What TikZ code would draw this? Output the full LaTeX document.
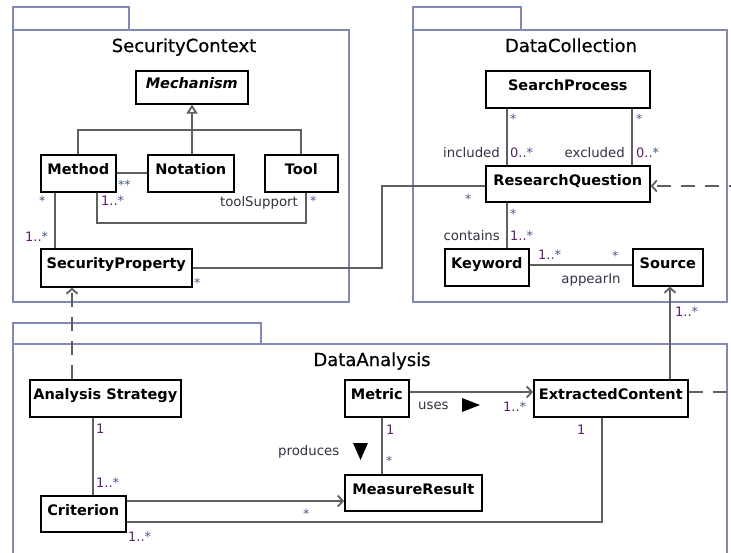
\documentclass[tikz,border=0pt]{standalone}
\usepackage{fontspec}
\setmainfont{DejaVu Sans}
\newfontfamily\pkgfont[FakeBold=0.5]{DejaVu Sans}
\usetikzlibrary{arrows.meta}

\definecolor{pkgline}{RGB}{128,136,184}
\definecolor{conn}{RGB}{95,95,95}
\definecolor{multc}{RGB}{96,32,110}
\definecolor{starc}{RGB}{70,90,135}
\definecolor{rolec}{RGB}{50,50,72}

\begin{document}
\begin{tikzpicture}[x=1pt,y=-1pt,
  pkg/.style={draw=pkgline, line width=1.3pt},
  pkgtitle/.style={font=\pkgfont\fontsize{18}{20}\selectfont, anchor=base, inner sep=0pt},
  cls/.style={draw=black, line width=1.6pt, fill=white, anchor=north west,
    font=\fontsize{14.5}{16}\selectfont\bfseries,
    text height=17pt, text depth=14pt, inner ysep=3pt, inner xsep=2pt},
  assoc/.style={draw=conn, line width=1.8pt},
  navi/.style={assoc, -{Straight Barb[length=5pt,width=11pt]}},
  dep/.style={navi, dash pattern=on 14pt off 10pt},
  gen/.style={assoc, -{Triangle[open, length=9pt, width=11pt]}},
  mult/.style={text=multc, font=\fontsize{13}{15}\selectfont, inner sep=0pt, anchor=base west},
  star/.style={text=starc, font=\fontsize{12.5}{14}\selectfont, inner sep=0pt, anchor=base west},
  role/.style={text=rolec, font=\fontsize{13.3}{15}\selectfont, inner sep=0pt},
  marker/.style={fill=black}
]
\useasboundingbox (0,0) rectangle (731,552);
\fill[white] (0,0) rectangle (731,552);

% ---------- packages ----------
\draw[pkg] (13,7) rectangle (129,30);
\draw[pkg] (13,30) rectangle (349,302);
\node[pkgtitle] (tSC) at (184,52) {SecurityContext};

\draw[pkg] (413,7) rectangle (521,30);
\draw[pkg] (413,30) rectangle (727,302);
\node[pkgtitle] (tDC) at (571,52) {DataCollection};

\draw[pkg] (13,323) rectangle (261,344);
\draw[pkg] (13,344) rectangle (727,570);
\node[pkgtitle] (tDA) at (372,366) {DataAnalysis};

% ---------- classes ----------
\node[cls, minimum width=112pt, text height=15pt, text depth=12pt,
  font=\fontsize{14.5}{16}\selectfont\bfseries\itshape] (mech) at (135,70) {Mechanism};
\node[cls, minimum width=75pt]  (method)   at (40,154)  {Method};
\node[cls, minimum width=86pt]  (notation) at (147,154) {Notation};
\node[cls, minimum width=73pt]  (tool)     at (264,154) {Tool};
\node[cls, minimum width=151pt, text depth=15pt] (sp) at (40,248) {SecurityProperty};

\node[cls, minimum width=164pt] (search)   at (485,70)  {SearchProcess};
\node[cls, minimum width=164pt, text depth=13pt] (rq) at (485,165) {ResearchQuestion};
\node[cls, minimum width=84pt]  (keyword)  at (444,248) {Keyword};
\node[cls, minimum width=70pt]  (source)   at (632,248) {Source};

\node[cls, minimum width=151pt] (as)       at (29,379)  {Analysis Strategy};
\node[cls, minimum width=64pt]  (metric)   at (344,379) {Metric};
\node[cls, minimum width=154pt] (ec)       at (533,379) {ExtractedContent};
\node[cls, minimum width=137pt, text depth=13pt] (mr) at (344,474) {MeasureResult};
\node[cls, minimum width=85pt, text depth=13pt]  (crit) at (40,495) {Criterion};

% ---------- helper points for routed connectors ----------
\coordinate (gj) at (192,130);
\coordinate (mt1) at (97,223);
\coordinate (mt2) at (306,223);
\coordinate (ms) at (55,220);
\coordinate (sr) at (382,230);
\coordinate (s1) at (507,130);
\coordinate (s2) at (632,130);
\coordinate (se) at (670,330);
\coordinate (sa) at (72,330);
\coordinate (dr) at (733,392);
\coordinate (du) at (733,186);
\coordinate (ac) at (93,450);
\coordinate (mm) at (382,440);
\coordinate (cm) at (200,501);
\coordinate (ce) at (602,522);

% ---------- SecurityContext connectors ----------
\draw[assoc] (method.north) |- (gj) -| (tool.north);
\draw[assoc] (notation.north -| gj) -- (gj);
\draw[gen] (gj) -- (mech.south -| gj);
\draw[assoc] (method.east) -- (notation.west);
\draw[assoc] (method.south -| mt1) -- (mt1) -- (mt2) -- (tool.south -| mt2);
\draw[assoc] (method.south -| ms) -- (sp.north -| ms);
\draw[assoc] (sp.east) -| (sr) |- (rq.west |- du);

% ---------- DataCollection connectors ----------
\draw[assoc] (search.south -| s1) -- (rq.north -| s1);
\draw[assoc] (search.south -| s2) -- (rq.north -| s2);
\draw[assoc] (rq.south -| s1) -- (keyword.north -| s1);
\draw[assoc] ([yshift=2pt]keyword.east) -- ([yshift=2pt]source.west);

% ---------- cross-package connectors ----------
\draw[navi] (ec.north -| se) -- (source.south -| se);
\draw[dep] (as.north -| sa) -- (sp.south -| sa);
\draw[dep] (ec.east |- dr) -- (dr) -- (du) -- (rq.east |- du);

% ---------- DataAnalysis connectors ----------
\draw[assoc] (as.south -| ac) -- (crit.north -| ac);
\draw[navi] (metric.east |- dr) -- (ec.west |- dr);
\draw[assoc] (metric.south -| mm) -- (mr.north -| mm);
\draw[navi] (crit.east |- cm) -- (mr.west |- cm);
\draw[assoc] (crit.east |- ce) -- (ce) -- (ec.south -| ce);

% ---------- multiplicities ----------
\node[star] (m1)  at (118,189) {**};
\node[star] (m2)  at (39,205)  {*};
\node[mult] (m3)  at (101,205) {1..\textcolor{starc}{*}};
\node[star] (m4)  at (310,205) {*};
\node[mult] (m5)  at (25,241)  {1..\textcolor{starc}{*}};
\node[star] (m6)  at (194,287) {*};

\node[star] (m7)  at (510,123) {*};
\node[star] (m8)  at (636,123) {*};
\node[mult] (m9)  at (510,157) {0..\textcolor{starc}{*}};
\node[mult] (m10) at (636,157) {0..\textcolor{starc}{*}};
\node[star] (m11) at (465,203) {*};
\node[star] (m12) at (510,218) {*};
\node[mult] (m13) at (510,240) {1..\textcolor{starc}{*}};
\node[mult] (m14) at (538,259) {1..\textcolor{starc}{*}};
\node[star] (m15) at (612,260) {*};
\node[mult] (m16) at (675,316) {1..\textcolor{starc}{*}};

\node[mult] (m17) at (96,433)  {1};
\node[mult] (m18) at (96,487)  {1..\textcolor{starc}{*}};
\node[star] (m19) at (303,518) {*};
\node[mult] (m20) at (128,541) {1..\textcolor{starc}{*}};
\node[mult] (m21) at (503,411) {1..\textcolor{starc}{*}};
\node[mult] (m22) at (386,434) {1};
\node[star] (m23) at (386,465) {*};
\node[mult] (m24) at (577,434) {1};

% ---------- role and association names ----------
\node[role, anchor=base east] (r1) at (298,206) {toolSupport};
\node[role, anchor=base east] (r2) at (500,157) {included};
\node[role, anchor=base east] (r3) at (625,157) {excluded};
\node[role, anchor=base east] (r4) at (500,240) {contains};
\node[role, anchor=base]      (r5) at (591,283) {appearIn};
\node[role, anchor=base west] (r6) at (418,409) {uses};
\node[role, anchor=base west] (r7) at (278,455) {produces};

% reading-direction markers
\fill[marker] (462,398) -- (462,412) -- (480,405) -- cycle;
\fill[marker] (353,443) -- (368,443) -- (360.5,460) -- cycle;
\end{tikzpicture}
\end{document}
